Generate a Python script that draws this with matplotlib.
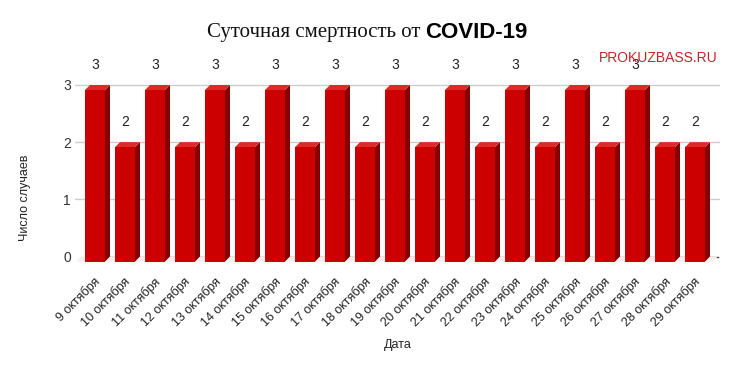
import matplotlib
matplotlib.use('Agg')
import matplotlib.pyplot as plt
from matplotlib.patches import Polygon

# data
dates = ['9 октября', '10 октября', '11 октября', '12 октября', '13 октября',
         '14 октября', '15 октября', '16 октября', '17 октября', '18 октября',
         '19 октября', '20 октября', '21 октября', '22 октября', '23 октября',
         '24 октября', '25 октября', '26 октября', '27 октября', '28 октября',
         '29 октября']
deaths = [3, 2, 3, 2, 3, 2, 3, 2, 3, 2, 3, 2, 3, 2, 3, 2, 3, 2, 3, 2, 2]
y_ticks = [0, 1, 2, 3]

FRONT = '#cc0000'
SIDE = '#850000'
TOP = '#dc2a2a'

plt.rcParams['font.family'] = ['Liberation Sans', 'DejaVu Sans']

W, H = 737, 371
fig = plt.figure(figsize=(W / 100, H / 100), dpi=100)
fig.patch.set_facecolor('white')

# axes box in pixels
left_px, right_px, top_px, bot_px = 75, 720, 80, 266
ax = fig.add_axes([left_px / W, 1 - bot_px / H,
                   (right_px - left_px) / W, (bot_px - top_px) / H])

# pixel scale for the fake 3d depth
x_unit = 30.0
y_unit = 57.17
zero_px = 256.5
ax.set_xlim((left_px - 95) / x_unit, (right_px - 95) / x_unit)
ax.set_ylim(-(bot_px - zero_px) / y_unit, (zero_px - top_px) / y_unit)

dx = 5 / x_unit
dy = 5 / y_unit
w = 20 / x_unit

for s in ax.spines.values():
    s.set_visible(False)

# grid + base line
for t in y_ticks[1:]:
    ax.axhline(t, color='#cccccc', lw=1, zorder=1)
ax.plot([-w / 2, len(dates) - 1 + w / 2 + dx + 0.25], [0, 0],
        color='#333333', lw=1, zorder=1)

# faint floor under the bars
ax.add_patch(Polygon([(-w / 2 - 0.3, -dy), (len(dates) - 1 + 0.6, -dy),
                      (len(dates) - 1 + 0.6 + dx, 0), (-w / 2 - 0.3 + dx, 0)],
                     closed=True, facecolor='#f8eded', edgecolor='none', zorder=1))

for i, v in enumerate(deaths):
    x0, x1 = i - w / 2, i + w / 2
    side = Polygon([(x1, -dy), (x1 + dx, 0), (x1 + dx, v), (x1, v - dy)],
                   closed=True, facecolor=SIDE, edgecolor='none', zorder=2)
    top = Polygon([(x0, v - dy), (x1, v - dy), (x1 + dx, v), (x0 + dx, v)],
                  closed=True, facecolor=TOP, edgecolor='none', zorder=2)
    front = Polygon([(x0, -dy), (x1, -dy), (x1, v - dy), (x0, v - dy)],
                    closed=True, facecolor=FRONT, edgecolor='none', zorder=3)
    ax.add_patch(side)
    ax.add_patch(top)
    ax.add_patch(front)
    ax.annotate(str(v), (i, v), xytext=(0, 14.4), textcoords='offset points',
                ha='center', va='center', fontsize=10, color='#222222',
                annotation_clip=False)

ax.set_yticks(y_ticks)
ax.set_yticklabels([str(t) for t in y_ticks], fontsize=10, color='#333333')
ax.set_xticks([i + 0.12 for i in range(len(dates))])
ax.set_xticklabels(dates, rotation=45, ha='right', va='center',
                   rotation_mode='anchor', fontsize=9, color='#222222')
ax.tick_params(axis='both', length=0)
ax.tick_params(axis='x', pad=10)
ax.tick_params(axis='y', pad=3)

# title in two fonts
ty = 1 - 32 / H
fig.text(420 / W, ty, 'Суточная смертность от', ha='right', va='center',
         fontsize=15, family='Liberation Serif', color='#111111')
fig.text(425 / W, ty, 'COVID-19', ha='left', va='center',
         fontsize=16, family='Liberation Sans', fontweight='bold', color='#000000')

fig.text(718 / W, 1 - 58 / H, 'PROKUZBASS.RU', ha='right', va='center',
         fontsize=10, color='#c4242b')

fig.text(25 / W, 1 - 198 / H, 'Число случаев', rotation=90, ha='center',
         va='center', fontsize=9, color='#222222')
fig.text(398 / W, 1 - 345 / H, 'Дата', ha='center', va='center',
         fontsize=9, color='#222222')

fig.savefig('out.png', dpi=100, facecolor='white')
